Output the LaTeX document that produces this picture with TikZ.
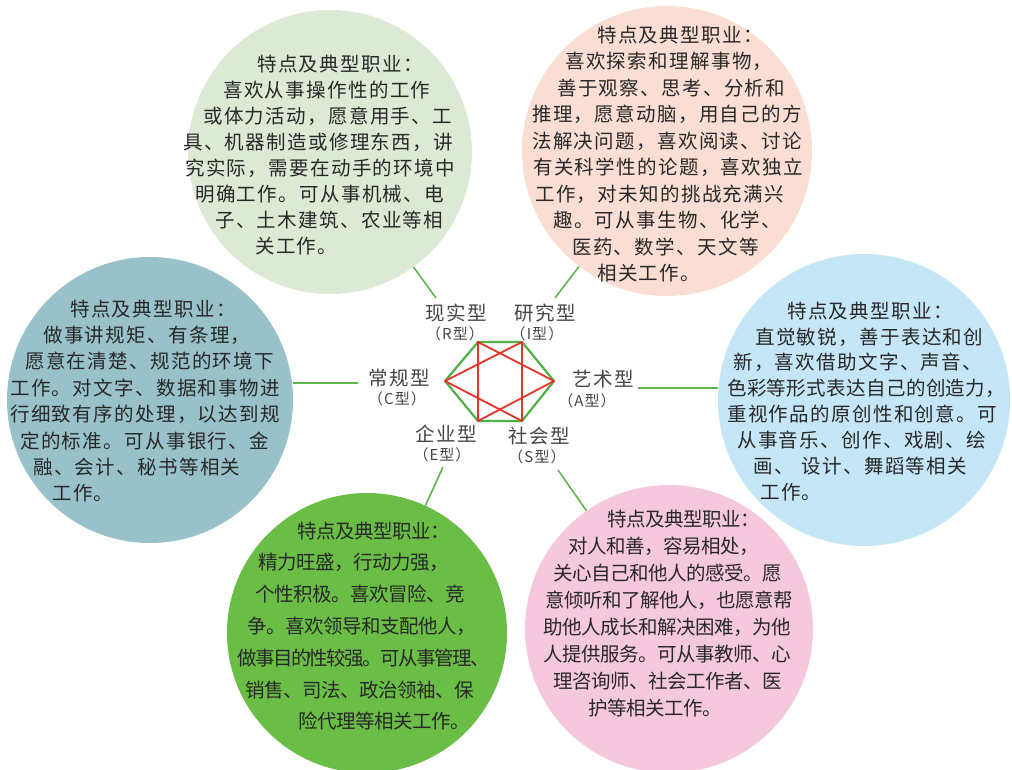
\documentclass[tikz,border=0pt]{standalone}
\usepackage{fontspec}
\newfontfamily\cjk[LetterSpace=7]{Noto Sans CJK SC}
\newfontfamily\cjkt[LetterSpace=-2.5]{Noto Sans CJK SC}
\definecolor{fillR}{RGB}{220,234,213}
\definecolor{fillI}{RGB}{250,222,212}
\definecolor{fillA}{RGB}{197,230,247}
\definecolor{fillS}{RGB}{246,200,222}
\definecolor{fillE}{RGB}{106,189,69}
\definecolor{fillC}{RGB}{152,193,201}
\definecolor{linegreen}{RGB}{96,182,78}
\definecolor{hexgreen}{RGB}{80,175,70}
\definecolor{hexred}{RGB}{232,52,40}
\definecolor{bodytext}{RGB}{40,40,40}
\definecolor{labtext}{RGB}{70,70,70}
\begin{document}
\begin{tikzpicture}[x=1pt,y=-1pt,
  disc/.style={circle,inner sep=0pt,minimum size=#1},
  body/.style={inner sep=0pt,anchor=north west,align=left,text=bodytext,
    font=\cjk\fontsize{19.5}{#1}\selectfont,
    execute at begin node={\rule{0pt}{18pt}}},
  bodyt/.style={body=#1,font=\cjkt\fontsize{19.5}{#1}\selectfont},
  lab/.style={inner sep=0pt,text=labtext,font=\cjk\fontsize{19.5}{20}\selectfont},
  sublab/.style={inner sep=0pt,text=labtext,font=\cjk\fontsize{15}{16}\selectfont},
  conn/.style={draw=linegreen,line width=1.6pt},
  hexline/.style={draw=hexgreen,line width=2.2pt,line join=round},
  starline/.style={draw=hexred,line width=1.8pt,line join=round}]
\useasboundingbox[fill=white] (0,0) rectangle (1012,770);

% circles
\node[disc=284pt,fill=fillR] (cR) at (330,152) {};
\node[disc=290pt,fill=fillI] (cI) at (667,151) {};
\node[disc=286pt,fill=fillC] (cC) at (150,400) {};
\node[disc=292pt,fill=fillA] (cA) at (864,400) {};
\node[disc=280pt,fill=fillE] (cE) at (367,633) {};
\node[disc=288pt,fill=fillS] (cS) at (669,629) {};

% circle texts
\node[body=26] (tR) at (183,54.5) {%
\hspace*{74pt}特点及典型职业：\\
\hspace*{40pt}喜欢从事操作性的工作\\
\hspace*{20pt}或体力活动，愿意用手、工\\
具、机器制造或修理东西，讲\\
\hspace*{2pt}究实际，需要在动手的环境中\\
\hspace*{12pt}明确工作。可从事机械、电\\
\hspace*{32pt}子、土木建筑、农业等相\\
\hspace*{72pt}关工作。};

\node[body=26.5] (tI) at (532,25.5) {%
\hspace*{65pt}特点及典型职业：\\
\hspace*{33pt}喜欢探索和理解事物，\\
\hspace*{25pt}善于观察、思考、分析和\\
推理，愿意动脑，用自己的方\\
法解决问题，喜欢阅读、讨论\\
\hspace*{1pt}有关科学性的论题，喜欢独立\\
\hspace*{3pt}工作，对未知的挑战充满兴\\
\hspace*{21pt}趣。可从事生物、化学、\\
\hspace*{40pt}医药、数学、天文等\\
\hspace*{65pt}相关工作。};

\node[body=26.4] (tC) at (10,299.5) {%
\hspace*{60pt}特点及典型职业：\\
\hspace*{33pt}做事讲规矩、有条理，\\
\hspace*{15pt}愿意在清楚、规范的环境下\\
工作。对文字、数据和事物进\\
行细致有序的处理，以达到规\\
\hspace*{10pt}定的标准。可从事银行、金\\
\hspace*{23pt}融、会计、秘书等相关\\
\hspace*{42pt}工作。};

\node[body=25.9] (tA) at (727,301.5) {%
\hspace*{60pt}特点及典型职业：\\
\hspace*{28pt}直觉敏锐，善于表达和创\\
\hspace*{6pt}新，喜欢借助文字、声音、\\
{\addfontfeature{LetterSpace=2}色彩等形式表达自己的创造力，}\\
重视作品的原创性和创意。可\\
\hspace*{10pt}从事音乐、创作、戏剧、绘\\
\hspace*{26pt}画、\hspace{8pt}设计、舞蹈等相关\\
\hspace*{33pt}工作。};

\node[bodyt=31.8] (tE) at (237,521.5) {%
\hspace*{60pt}特点及典型职业：\\
\hspace*{21pt}精力旺盛，行动力强，\\
\hspace*{18pt}个性积极。喜欢冒险、竞\\
\hspace*{10pt}争。喜欢领导和支配他人，\\
{\addfontfeature{LetterSpace=-8}做事目的性较强。可从事管理、}\\
\hspace*{8pt}销售、司法、政治领袖、保\\
\hspace*{61pt}险代理等相关工作。};

\node[bodyt=27] (tS) at (543,509.5) {%
\hspace*{64pt}特点及典型职业：\\
\hspace*{25pt}对人和善，容易相处，\\
\hspace*{10pt}关心自己和他人的感受。愿\\
\hspace*{2pt}意倾听和了解他人，也愿意帮\\
助他人成长和解决困难，为他\\
人提供服务。可从事教师、心\\
\hspace*{10pt}理咨询师、社会工作者、医\\
\hspace*{45pt}护等相关工作。};

% hexagon
\coordinate (hTL) at (478,342);
\coordinate (hTR) at (522,342);
\coordinate (hR)  at (554,381);
\coordinate (hBR) at (522,421);
\coordinate (hBL) at (478,421);
\coordinate (hL)  at (445,381);
\draw[hexline] (hTL) -- (hTR) -- (hR) -- (hBR) -- (hBL) -- (hL) -- cycle;
\draw[starline] (hL) -- (hTR) -- (hBR) -- cycle;
\draw[starline] (hR) -- (hTL) -- (hBL) -- cycle;

% type labels
\node[lab] (lR) at (456,313.5) {现实型};
\node[sublab] (sR) at (455,334) {（R型）};
\node[lab] (lI) at (545,313.5) {研究型};
\node[sublab] (sI) at (537,334) {（I型）};
\node[lab] (lC) at (399,378.5) {常规型};
\node[sublab] (sC) at (397,399) {（C型）};
\node[lab] (lA) at (603,379) {艺术型};
\node[sublab] (sA) at (587,401) {（A型）};
\node[lab] (lE) at (446,434) {企业型};
\node[sublab] (sE) at (442,455) {（E型）};
\node[lab] (lS) at (539,436) {社会型};
\node[sublab] (sS) at (537,457) {（S型）};

% connectors
\coordinate (eR) at (436,298);
\coordinate (eI) at (555,298);
\coordinate (eC) at (358,383);
\coordinate (eA) at (638,388);
\coordinate (eE) at (443,467);
\coordinate (eS) at (558,470);
\draw[conn] (cR) -- (eR);
\draw[conn] (cI) -- (eI);
\draw[conn] (cC.east |- eC) -- (eC);
\draw[conn] (eA) -- (cA.west |- eA);
\draw[conn] (eE) -- (cE);
\draw[conn] (eS) -- (cS);
\end{tikzpicture}
\end{document}
